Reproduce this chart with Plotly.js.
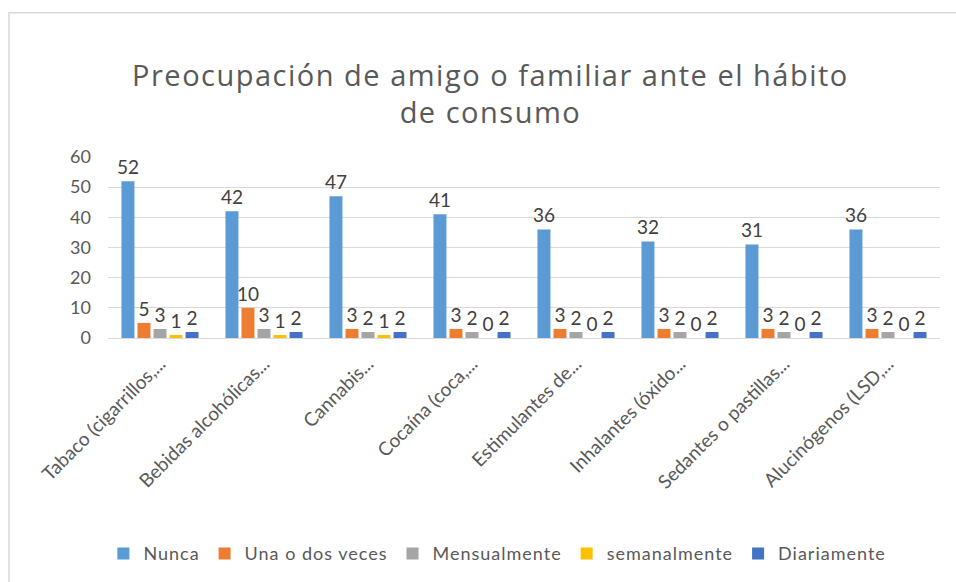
<!DOCTYPE html>
<html>
<head>
<meta charset="utf-8">
<script src="https://cdn.plot.ly/plotly-3.0.1.min.js"></script>
<style>
html,body{margin:0;padding:0;background:#fff;}
#chart{width:956px;height:582px;}
.gtitle{letter-spacing:1.5px;}
.legendtext{letter-spacing:1px;}
</style>
</head>
<body>
<div id="chart"></div>
<script>
var categories = ["Tabaco (cigarrillos,...", "Bebidas alcohólicas...", "Cannabis...", "Cocaína (coca,...", "Estimulantes de...", "Inhalantes (óxido...", "Sedantes o pastillas...", "Alucinógenos (LSD,..."];
var seriesNames = ["Nunca", "Una o dos veces", "Mensualmente", "semanalmente", "Diariamente"];
var nunca = [52, 42, 47, 41, 36, 32, 31, 36];
var unaODos = [5, 10, 3, 3, 3, 3, 3, 3];
var mensual = [3, 3, 2, 2, 2, 2, 2, 2];
var semanal = [1, 1, 1, 0, 0, 0, 0, 0];
var diario = [2, 2, 2, 2, 2, 2, 2, 2];
var colors = ["#5B9BD5", "#ED7D31", "#A5A5A5", "#FFC000", "#4472C4"];
var allSeries = [nunca, unaODos, mensual, semanal, diario];

var traces = allSeries.map(function(vals, i) {
  return {
    type: 'bar', name: seriesNames[i], x: categories, y: vals,
    marker: {color: colors[i]},
    text: vals.map(String),
    textposition: 'outside', constraintext: 'none',
    cliponaxis: false,
    textfont: {family: 'Lato, sans-serif', size: 19, color: '#404040'},
    hoverinfo: 'none'
  };
});

var layout = {
  width: 956, height: 582,
  margin: {l: 108, r: 16, t: 157, b: 243},
  paper_bgcolor: '#ffffff', plot_bgcolor: '#ffffff',
  font: {family: 'Lato, sans-serif', color: '#595959'},
  title: {
    text: 'Preocupación de amigo o familiar ante el hábito<br>de consumo',
    font: {family: '"Open Sans", sans-serif', size: 29, color: '#595959'},
    x: 0.513, xref: 'container', xanchor: 'center',
    y: 0.853, yref: 'container', yanchor: 'middle'
  },
  barmode: 'group', bargap: 0.23, bargroupgap: 0.19,
  xaxis: {
    type: 'category', tickangle: -45, showgrid: false, zeroline: false,
    showline: false, ticks: '', ticklabelstandoff: 10,
    tickfont: {family: 'Lato, sans-serif', size: 19, color: '#595959'}
  },
  yaxis: {
    range: [0, 60], dtick: 10, showgrid: true, gridcolor: '#D9D9D9', gridwidth: 1,
    zeroline: true, zerolinecolor: '#D9D9D9', showline: false, ticks: '',
    ticklabelstandoff: 16,
    tickfont: {family: 'Lato, sans-serif', size: 18, color: '#595959'}
  },
  showlegend: true,
  legend: {
    orientation: 'h', x: 0.468, xanchor: 'center', y: -1.18, yanchor: 'middle',
    font: {family: 'Lato, sans-serif', size: 18, color: '#595959'},
    itemwidth: 30, traceorder: 'normal'
  },
  shapes: [{
    type: 'rect', xref: 'paper', yref: 'paper',
    x0: -0.119, x1: 1.2, y0: -2.0, y1: 1.797,
    line: {color: '#D9D9D9', width: 1.5}, fillcolor: 'rgba(0,0,0,0)', layer: 'below'
  }]
};

Plotly.newPlot('chart', traces, layout, {displayModeBar: false, staticPlot: true});
</script>
</body>
</html>
